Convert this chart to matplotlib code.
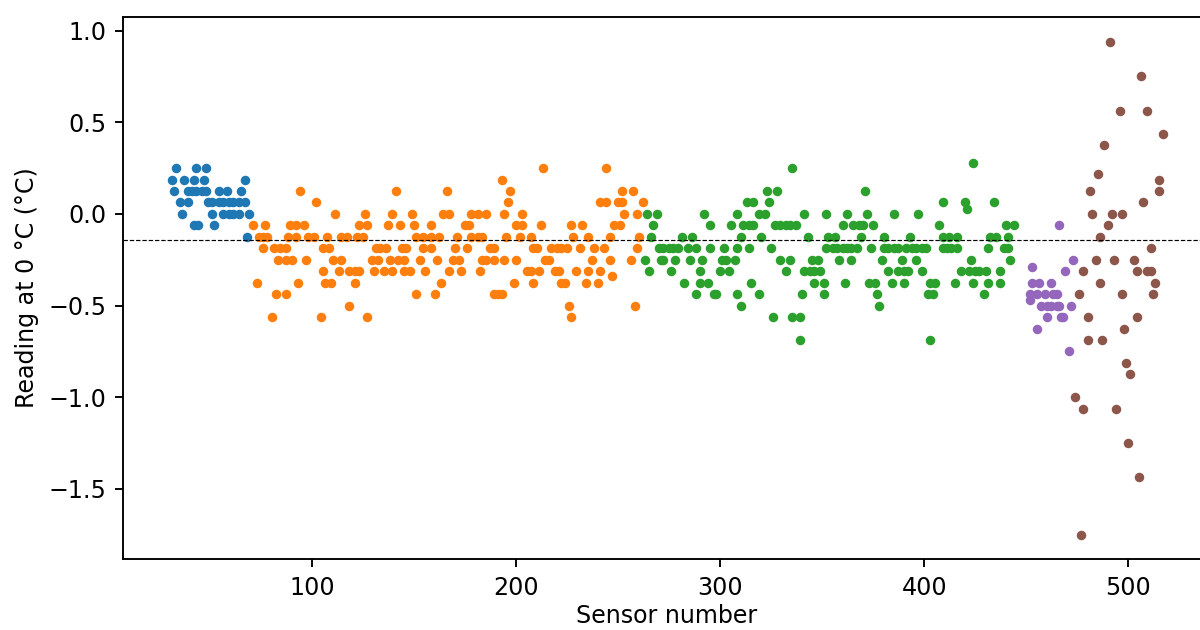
import matplotlib
matplotlib.use('Agg')
import matplotlib.pyplot as plt

# Leituras a 0 °C (passo de 1/16 °C)

# Grupo 1 (azul)
blue_sensors = [33, 43, 48,
                31, 37, 42, 47, 67,
                32, 39, 41, 43, 46, 48, 54, 58, 65,
                35, 39, 49, 51, 54, 56, 59, 61, 64, 67,
                36, 51, 56, 59, 61, 64, 69,
                42, 44, 52,
                68]
blue_readings = [0.25, 0.25, 0.25,
                 0.1875, 0.1875, 0.1875, 0.1875, 0.1875,
                 0.125, 0.125, 0.125, 0.125, 0.125, 0.125, 0.125, 0.125, 0.125,
                 0.0625, 0.0625, 0.0625, 0.0625, 0.0625, 0.0625, 0.0625, 0.0625, 0.0625, 0.0625,
                 0.0, 0.0, 0.0, 0.0, 0.0, 0.0, 0.0,
                 -0.0625, -0.0625, -0.0625,
                 -0.125]

# Grupo 2 (laranja)
orange_sensors = [213, 244,
                  193,
                  94, 141, 166, 197, 252, 257,
                  102, 196, 241, 244, 250, 252, 262,
                  111, 126, 139, 149, 164, 167, 178, 181, 185, 194, 203, 253, 259,
                  71, 77, 89, 92, 96, 123, 127, 137, 143, 150,
                  158, 175, 177, 200, 203, 212, 227, 232, 248, 251,
                  74, 76, 78, 88, 92, 98, 101, 107, 114, 117,
                  122, 125, 151, 154, 158, 162, 171, 178, 181, 183,
                  195, 202, 207, 228, 235, 246, 260,
                  76, 81, 84, 87, 105, 108, 131, 133, 136, 144,
                  146, 154, 158, 170, 176, 187, 189, 208, 210, 217,
                  220, 222, 225, 231, 238, 243, 259,
                  83, 87, 90, 97, 110, 114, 129, 132, 138, 142,
                  145, 153, 161, 169, 172, 183, 185, 189, 194, 200,
                  214, 216, 237, 246, 256,
                  105, 113, 118, 121, 123, 130, 135, 139, 145, 148,
                  155, 167, 173, 182, 205, 207, 211, 219, 221, 229,
                  235, 241,
                  247,
                  73, 93, 106, 109, 121, 163, 199, 208, 222, 224,
                  234, 240,
                  82, 87, 151, 160, 189, 191, 193,
                  118, 226, 258,
                  80, 104, 127, 227]
orange_readings = [0.25, 0.25,
                   0.1875,
                   0.125, 0.125, 0.125, 0.125, 0.125, 0.125,
                   0.0625, 0.0625, 0.0625, 0.0625, 0.0625, 0.0625, 0.0625,
                   0.0, 0.0, 0.0, 0.0, 0.0, 0.0, 0.0, 0.0, 0.0, 0.0, 0.0, 0.0, 0.0,
                   -0.0625, -0.0625, -0.0625, -0.0625, -0.0625, -0.0625, -0.0625, -0.0625, -0.0625, -0.0625,
                   -0.0625, -0.0625, -0.0625, -0.0625, -0.0625, -0.0625, -0.0625, -0.0625, -0.0625, -0.0625,
                   -0.125, -0.125, -0.125, -0.125, -0.125, -0.125, -0.125, -0.125, -0.125, -0.125,
                   -0.125, -0.125, -0.125, -0.125, -0.125, -0.125, -0.125, -0.125, -0.125, -0.125,
                   -0.125, -0.125, -0.125, -0.125, -0.125, -0.125, -0.125,
                   -0.1875, -0.1875, -0.1875, -0.1875, -0.1875, -0.1875, -0.1875, -0.1875, -0.1875, -0.1875,
                   -0.1875, -0.1875, -0.1875, -0.1875, -0.1875, -0.1875, -0.1875, -0.1875, -0.1875, -0.1875,
                   -0.1875, -0.1875, -0.1875, -0.1875, -0.1875, -0.1875, -0.1875,
                   -0.25, -0.25, -0.25, -0.25, -0.25, -0.25, -0.25, -0.25, -0.25, -0.25,
                   -0.25, -0.25, -0.25, -0.25, -0.25, -0.25, -0.25, -0.25, -0.25, -0.25,
                   -0.25, -0.25, -0.25, -0.25, -0.25,
                   -0.3125, -0.3125, -0.3125, -0.3125, -0.3125, -0.3125, -0.3125, -0.3125, -0.3125, -0.3125,
                   -0.3125, -0.3125, -0.3125, -0.3125, -0.3125, -0.3125, -0.3125, -0.3125, -0.3125, -0.3125,
                   -0.3125, -0.3125,
                   -0.34,
                   -0.375, -0.375, -0.375, -0.375, -0.375, -0.375, -0.375, -0.375, -0.375, -0.375,
                   -0.375, -0.375,
                   -0.4375, -0.4375, -0.4375, -0.4375, -0.4375, -0.4375, -0.4375,
                   -0.5, -0.5, -0.5,
                   -0.5625, -0.5625, -0.5625, -0.5625]

# Grupo 3 (verde)
green_sensors = [424,
                 335,
                 323, 328, 371,
                 313, 316, 324, 409, 420, 434,
                 421,
                 264, 269, 292, 308, 319, 322, 341, 352, 362, 372,
                 385, 397,
                 267, 295, 305, 311, 314, 316, 327, 329, 332, 334,
                 337, 360, 365, 368, 370, 375, 407, 440, 444,
                 266, 281, 286, 310, 320, 343, 353, 356, 369, 380,
                 393, 409, 412, 416, 432, 435, 441,
                 270, 272, 275, 277, 279, 284, 288, 295, 302, 308,
                 314, 325, 352, 355, 357, 360, 362, 364, 367, 374,
                 380, 382, 385, 387, 391, 394, 396, 399, 401, 409,
                 411, 413, 416, 431, 439, 441,
                 263, 271, 272, 278, 285, 291, 301, 303, 307, 329,
                 334, 345, 348, 358, 364, 379, 389, 396, 423, 442,
                 265, 276, 290, 300, 304, 332, 341, 344, 346, 349,
                 382, 387, 390, 392, 399, 418, 422, 425, 427, 430,
                 437,
                 282, 290, 294, 315, 346, 351, 361, 373, 376, 384,
                 390, 403, 405, 415, 424, 431, 437,
                 288, 297, 298, 308, 319, 340, 351, 377, 402, 404,
                 429,
                 310, 378,
                 326, 335, 339,
                 339, 403]
green_readings = [0.28,
                  0.25,
                  0.125, 0.125, 0.125,
                  0.0625, 0.0625, 0.0625, 0.0625, 0.0625, 0.0625,
                  0.025,
                  0.0, 0.0, 0.0, 0.0, 0.0, 0.0, 0.0, 0.0, 0.0, 0.0,
                  0.0, 0.0,
                  -0.0625, -0.0625, -0.0625, -0.0625, -0.0625, -0.0625, -0.0625, -0.0625, -0.0625, -0.0625,
                  -0.0625, -0.0625, -0.0625, -0.0625, -0.0625, -0.0625, -0.0625, -0.0625, -0.0625,
                  -0.125, -0.125, -0.125, -0.125, -0.125, -0.125, -0.125, -0.125, -0.125, -0.125,
                  -0.125, -0.125, -0.125, -0.125, -0.125, -0.125, -0.125,
                  -0.1875, -0.1875, -0.1875, -0.1875, -0.1875, -0.1875, -0.1875, -0.1875, -0.1875, -0.1875,
                  -0.1875, -0.1875, -0.1875, -0.1875, -0.1875, -0.1875, -0.1875, -0.1875, -0.1875, -0.1875,
                  -0.1875, -0.1875, -0.1875, -0.1875, -0.1875, -0.1875, -0.1875, -0.1875, -0.1875, -0.1875,
                  -0.1875, -0.1875, -0.1875, -0.1875, -0.1875, -0.1875,
                  -0.25, -0.25, -0.25, -0.25, -0.25, -0.25, -0.25, -0.25, -0.25, -0.25,
                  -0.25, -0.25, -0.25, -0.25, -0.25, -0.25, -0.25, -0.25, -0.25, -0.25,
                  -0.3125, -0.3125, -0.3125, -0.3125, -0.3125, -0.3125, -0.3125, -0.3125, -0.3125, -0.3125,
                  -0.3125, -0.3125, -0.3125, -0.3125, -0.3125, -0.3125, -0.3125, -0.3125, -0.3125, -0.3125,
                  -0.3125,
                  -0.375, -0.375, -0.375, -0.375, -0.375, -0.375, -0.375, -0.375, -0.375, -0.375,
                  -0.375, -0.375, -0.375, -0.375, -0.375, -0.375, -0.375,
                  -0.4375, -0.4375, -0.4375, -0.4375, -0.4375, -0.4375, -0.4375, -0.4375, -0.4375, -0.4375,
                  -0.4375,
                  -0.5, -0.5,
                  -0.5625, -0.5625, -0.5625,
                  -0.6875, -0.6875]

# Grupo 4 (roxo)
purple_sensors = [466, 473, 453, 469,
                  453, 456, 462,
                  452, 455, 459, 463, 465,
                  452,
                  457, 460, 462, 465, 466, 472,
                  460, 467, 468,
                  455, 471]
purple_readings = [-0.0625, -0.25, -0.29, -0.3125,
                   -0.375, -0.375, -0.375,
                   -0.4375, -0.4375, -0.4375, -0.4375, -0.4375,
                   -0.47,
                   -0.5, -0.5, -0.5, -0.5, -0.5, -0.5,
                   -0.5625, -0.5625, -0.5625,
                   -0.625, -0.75]

# Grupo 5 (marrom)
brown_sensors = [491, 506, 496, 509, 517, 488, 485, 481, 515, 515,
                 507, 482, 492, 497, 490, 486, 511, 484, 493, 503,
                 478, 504, 509, 511, 486, 513, 476, 497, 512, 480,
                 504, 498, 480, 487, 499, 501, 474, 478, 494, 500,
                 505, 477]
brown_readings = [0.9375, 0.75, 0.5625, 0.5625, 0.4375, 0.375, 0.22, 0.125, 0.1875, 0.125,
                  0.0625, 0.0, 0.0, 0.0, -0.0625, -0.125, -0.1875, -0.25, -0.25, -0.25,
                  -0.3125, -0.3125, -0.3125, -0.3125, -0.375, -0.375, -0.4375, -0.4375, -0.4375, -0.5625,
                  -0.5625, -0.625, -0.6875, -0.6875, -0.8125, -0.875, -1.0, -1.0625, -1.0625, -1.25,
                  -1.4375, -1.75]

# Linha tracejada (nível de referência)
dashed_level = -0.142

groups = [(blue_sensors, blue_readings, 'C0'),
          (orange_sensors, orange_readings, 'C1'),
          (green_sensors, green_readings, 'C2'),
          (purple_sensors, purple_readings, 'C4'),
          (brown_sensors, brown_readings, 'C5')]

for s, r, c in groups:
    assert len(s) == len(r), (c, len(s), len(r))

fig = plt.figure(figsize=(1200 / 171, 630 / 171), dpi=171)
ax = fig.add_axes([0.1028, 0.1122, 0.9055, 0.8613])

for s, r, c in groups:
    ax.plot(s, r, '.', color=c)

ax.axhline(dashed_level, color='k', ls='--', lw=0.5)

ax.set_xlim(7.35, 540)
ax.set_ylim(-1.884, 1.076)
ax.set_xlabel('Sensor number', labelpad=1.5)
ax.set_ylabel('Reading at 0 °C (°C)')

fig.savefig('out.png', dpi=171)
